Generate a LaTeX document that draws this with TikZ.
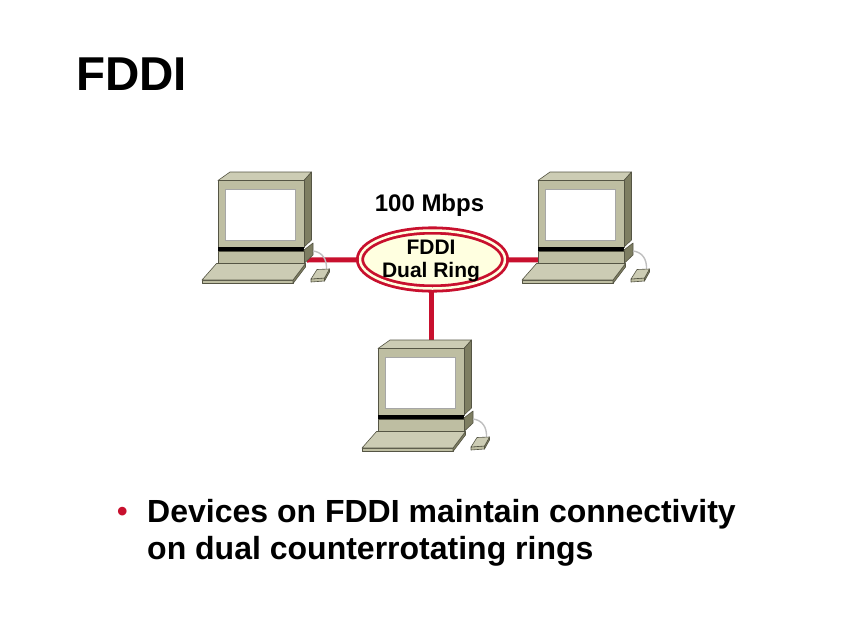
\documentclass[tikz,border=0pt]{standalone}
\usepackage{fontspec}
\setmainfont{Liberation Sans}
\usepackage{tikz}
\usetikzlibrary{shapes,arrows,positioning}

\definecolor{ringred}{RGB}{200,16,46}
\definecolor{ringcream}{RGB}{255,255,224}
\definecolor{pcfront}{RGB}{190,190,162}
\definecolor{pctop}{RGB}{204,204,180}
\definecolor{pcside}{RGB}{126,126,98}
\definecolor{pcline}{RGB}{85,85,68}

\tikzset{
  pcpart/.style={draw=pcline, line width=0.6pt, line join=round},
  link/.style={draw=ringred, line width=5pt},
  computer/.pic={
    % monitor
    \draw [pcpart, fill=pctop]   (0,8.5) -- (12,0) -- (93.5,0) -- (86,8.5) -- cycle;
    \draw [pcpart, fill=pcside]  (86,8.5) -- (93.5,0) -- (93.5,68) -- (86,75) -- cycle;
    \draw [pcpart, fill=pcfront] (0,8.5) rectangle (86,75);
    \draw [draw=gray!70, line width=1pt, fill=white] (7.5,17.5) rectangle (77,68.5);
    % stand
    \fill [black] (0,75) rectangle (86,79);
    \draw [pcpart, fill=pcside]  (86,78) -- (95,71) -- (95,83) -- (86,91.5) -- cycle;
    \draw [pcpart, fill=pcfront] (0,79) rectangle (86,91.5);
    % cable
    \draw [draw=gray!50, line width=1.4pt] (95,79) .. controls (104,80) and (109,87) .. (108.5,97);
    % keyboard
    \draw [pcpart, fill=pcfront] (-16,108) -- (75,108) -- (75,111.5) -- (-16,111.5) -- cycle;
    \draw [pcpart, fill=pcside]  (75,108) -- (87.5,91.5) -- (87.5,95) -- (75,111.5) -- cycle;
    \draw [pcpart, fill=pctop]   (-1.5,91.5) -- (87.5,91.5) -- (75,108) -- (-16,108) -- cycle;
    % mouse
    \draw [pcpart, fill=pcfront] (93,107) -- (106.5,106) -- (106.5,109) -- (93,110) -- cycle;
    \draw [pcpart, fill=pcside]  (106.5,106) -- (111.5,97) -- (111.5,100) -- (106.5,109) -- cycle;
    \draw [pcpart, fill=pctop]   (93,107) -- (99,97.5) -- (111.5,97) -- (106.5,106) -- cycle;
  }
}

\begin{document}
\begin{tikzpicture}[x=1pt, y=-1pt]
    \useasboundingbox [fill=white] (0,0) rectangle (853,640);

    \node [anchor=base west, inner sep=0, font=\fontsize{47.5}{50}\selectfont\bfseries] (title) at (76,90) {FDDI};

    \node [ellipse, draw=ringred, double=ringcream, double distance=2.5pt, line width=2.8pt, fill=ringcream,
           inner sep=0, minimum width=145pt, minimum height=58pt] (ring) at (432.5,259.5) {};
    \node [inner sep=0, align=center, font=\fontsize{21}{23.5}\selectfont\bfseries] (ringtext) at (431,261) {FDDI\\Dual Ring};
    \node [anchor=base, inner sep=0, font=\fontsize{24}{26}\selectfont\bfseries] (speed) at (429.5,211) {100 Mbps};

    \coordinate (leftpc) at (307,260);
    \coordinate (rightpc) at (540,260);
    \coordinate (bottompc) at (431,341);
    \draw [link] (ring) -- (leftpc);
    \draw [link] (ring) -- (rightpc);
    \draw [link] (ring.south -| bottompc) -- (bottompc);

    \pic at (218,172) {computer};
    \pic at (538,172) {computer};
    \pic at (378,340) {computer};

    \node [anchor=base west, inner sep=0, text=ringred, font=\fontsize{30}{36}\selectfont\bfseries] (dot) at (117,521) {•};
    \node [anchor=north west, inner sep=0, align=left, font=\fontsize{32}{37}\selectfont\bfseries] (body) at (147,499)
        {Devices on FDDI maintain connectivity\\on dual counterrotating rings};
\end{tikzpicture}
\end{document}
